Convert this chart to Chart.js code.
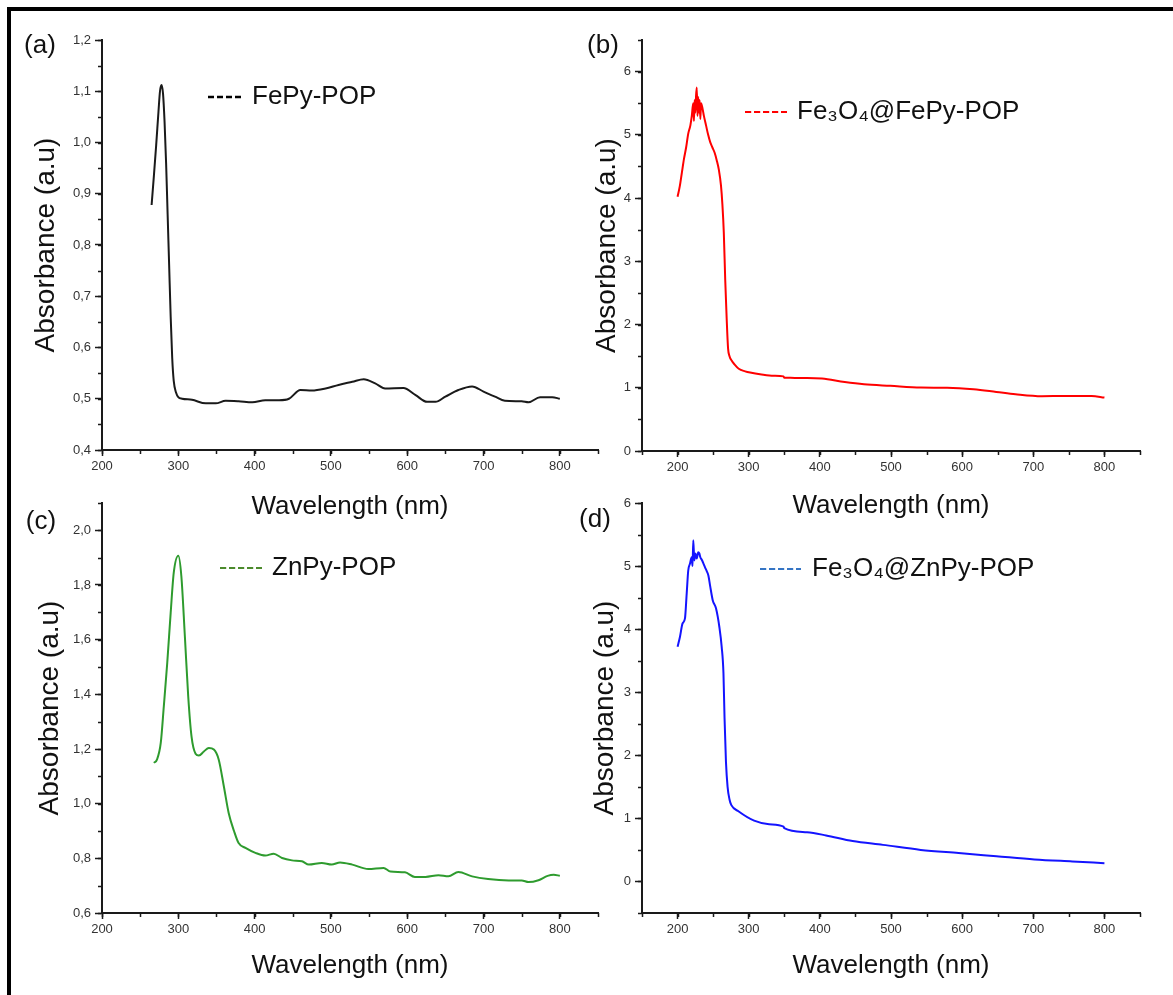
<!DOCTYPE html>
<html>
<head>
<meta charset="utf-8">
<script src="https://cdn.jsdelivr.net/npm/chart.js@4.4.0/dist/chart.umd.min.js"></script>
<style>
  body { margin: 0; background: #fff; }
  #lienzo { position: relative; width: 1173px; height: 995px; background: #fff; overflow: hidden; }
  .marco { position: absolute; left: 7px; top: 7px; width: 1200px; height: 1000px; border-top: 4px solid #000; border-left: 4px solid #000; }
  canvas { position: absolute; }
</style>
</head>
<body>
<div id="lienzo">
  <div class="marco"></div>
  <canvas id="chartA" width="610" height="522" style="left:0;top:0"></canvas>
  <canvas id="chartB" width="593" height="522" style="left:580px;top:0"></canvas>
  <canvas id="chartC" width="610" height="515" style="left:0;top:480px"></canvas>
  <canvas id="chartD" width="593" height="515" style="left:580px;top:480px"></canvas>
</div>
<script>
// ===============================
//   DATOS
// ===============================
const ticksX = [200, 300, 400, 500, 600, 700, 800];

// (a) FePy-POP
const xA = [265, 268, 271, 274, 276, 278, 280, 282, 284, 286, 288, 290, 292, 294, 297, 300, 305, 318, 336, 349, 362, 379, 397, 414, 432, 445, 460, 475, 493, 510, 528, 543, 558, 571, 595, 611, 626, 637, 650, 667, 685, 700, 715, 728, 750, 759, 774, 790, 800];
const yA = [0.878, 0.935, 0.995, 1.06, 1.10, 1.112, 1.095, 1.04, 0.96, 0.86, 0.76, 0.66, 0.58, 0.535, 0.512, 0.503, 0.500, 0.498, 0.491, 0.491, 0.496, 0.495, 0.493, 0.497, 0.497, 0.500, 0.517, 0.516, 0.520, 0.527, 0.533, 0.538, 0.530, 0.520, 0.521, 0.507, 0.494, 0.494, 0.504, 0.517, 0.524, 0.514, 0.504, 0.496, 0.495, 0.493, 0.503, 0.503, 0.500];
const ticksYA = [0.4, 0.5, 0.6, 0.7, 0.8, 0.9, 1.0, 1.1, 1.2];

// (b) Fe3O4@FePy-POP
const xB = [200, 203, 206, 209, 212, 215, 218, 220, 222, 223, 224, 225, 226, 227, 228, 229, 230, 231, 232, 233, 235, 237, 240, 243, 246, 249, 252, 255, 258, 261, 263, 265, 267, 269, 271, 273, 276, 280, 286, 295, 302, 318, 335, 349, 350, 352, 365, 382, 403, 435, 462, 499, 542, 579, 616, 648, 675, 712, 744, 782, 800];
const yB = [4.02, 4.18, 4.40, 4.62, 4.80, 5.02, 5.15, 5.30, 5.50, 5.22, 5.55, 5.35, 5.62, 5.75, 5.30, 5.60, 5.35, 5.55, 5.25, 5.50, 5.42, 5.30, 5.15, 5.00, 4.88, 4.80, 4.72, 4.60, 4.45, 4.20, 3.90, 3.45, 2.70, 2.10, 1.62, 1.50, 1.43, 1.37, 1.30, 1.26, 1.24, 1.21, 1.19, 1.18, 1.16, 1.16, 1.155, 1.155, 1.145, 1.09, 1.055, 1.03, 1.003, 1.0, 0.976, 0.934, 0.897, 0.866, 0.87, 0.87, 0.845];
const ticksYB = [0, 1, 2, 3, 4, 5, 6];

// (c) ZnPy-POP
const xC = [268, 272, 277, 281, 285.5, 290, 294, 300, 304, 308.6, 313, 317.3, 322.6, 327, 333.5, 340, 346.6, 353, 359.7, 366, 373, 379, 388, 401, 414, 425, 436, 449, 462, 471, 488, 501, 512, 528, 549, 569, 578, 597, 610, 624, 641, 654, 667, 685, 706, 733, 750, 759, 772, 784, 792, 800];
const yC = [1.149, 1.161, 1.222, 1.356, 1.515, 1.698, 1.844, 1.907, 1.832, 1.612, 1.392, 1.246, 1.183, 1.176, 1.191, 1.204, 1.198, 1.161, 1.063, 0.966, 0.90, 0.856, 0.838, 0.82, 0.81, 0.817, 0.801, 0.7925, 0.789, 0.777, 0.783, 0.777, 0.785, 0.777, 0.761, 0.765, 0.752, 0.749, 0.732, 0.732, 0.738, 0.734, 0.75, 0.734, 0.724, 0.719, 0.719, 0.713, 0.72, 0.736, 0.74, 0.736];
const ticksYC = [0.6, 0.8, 1.0, 1.2, 1.4, 1.6, 1.8, 2.0];

// (d) Fe3O4@ZnPy-POP
const xD = [200, 203.4, 207, 210.4, 212.8, 215, 217.5, 219.8, 221, 222.1, 223.5, 225, 227, 229, 230.6, 232, 234, 236, 238.6, 241, 243.3, 245.7, 249.4, 254, 258.8, 262, 264.5, 266, 268, 270.3, 273, 275.6, 286, 307.6, 328.7, 349, 350, 382, 408.7, 446, 488.6, 541.8, 595, 648.3, 701.6, 754.8, 800];
const yD = [3.72, 3.88, 4.09, 4.17, 4.56, 4.93, 5.04, 5.14, 5.0, 5.41, 5.09, 5.2, 5.12, 5.22, 5.2, 5.14, 5.1, 5.05, 4.98, 4.92, 4.85, 4.69, 4.46, 4.33, 4.03, 3.72, 3.3, 2.6, 1.9, 1.5, 1.3, 1.21, 1.11, 0.965, 0.908, 0.87, 0.845, 0.78, 0.73, 0.64, 0.58, 0.50, 0.45, 0.40, 0.35, 0.317, 0.29];
const ticksYD = [0, 1, 2, 3, 4, 5, 6];

const fuente = '"Liberation Sans", Arial, Helvetica, sans-serif';
const colorEje = "#1a1a1a";

// ===============================
//   PLUGIN: ticks menores, rótulo y leyenda
// ===============================
const decoraciones = {
  id: "decoraciones",
  afterDraw(chart, args, o) {
    const ctx = chart.ctx;
    const xs = chart.scales.x, ys = chart.scales.y;
    const area = chart.chartArea;
    ctx.save();
    // ticks menores
    ctx.strokeStyle = colorEje;
    ctx.lineWidth = 1.5;
    ctx.beginPath();
    for (let k = 0; ; k++) {
      const v = xs.min + k * o.menorX;
      if (v > xs.max + 1e-9) break;
      const px = Math.round(xs.getPixelForValue(v)) + 0.5;
      ctx.moveTo(px, area.bottom);
      ctx.lineTo(px, area.bottom + 4);
    }
    for (let k = 0; ; k++) {
      const v = ys.min + k * o.menorY;
      if (v > ys.max + 1e-9) break;
      const py = Math.round(ys.getPixelForValue(v)) + 0.5;
      ctx.moveTo(area.left - 4, py);
      ctx.lineTo(area.left, py);
    }
    ctx.stroke();

    // rótulo del panel
    ctx.font = "26px " + fuente;
    ctx.fillStyle = "#111";
    ctx.textAlign = "center";
    ctx.textBaseline = "middle";
    ctx.fillText(o.rotulo, o.rotuloX - o.ox, o.rotuloY - o.oy);

    // leyenda
    const ly = o.leyY - o.oy;
    ctx.strokeStyle = o.colorGuion;
    ctx.lineWidth = o.grosorGuion;
    ctx.setLineDash(o.guion);
    ctx.beginPath();
    ctx.moveTo(o.guionX1 - o.ox, ly);
    ctx.lineTo(o.guionX2 - o.ox, ly);
    ctx.stroke();
    ctx.setLineDash([]);
    ctx.textAlign = "left";
    ctx.fillText(chart.data.datasets[0].label, o.textoX - o.ox, ly);
    ctx.restore();
  }
};

function crearPanel(idCanvas, p) {
  const formato = p.decimales ? (v) => v.toFixed(1).replace(".", ",") : (v) => String(v);
  return new Chart(document.getElementById(idCanvas), {
    type: "line",
    data: {
      datasets: [{
        label: p.etiqueta,
        data: p.xs.map((x, i) => ({ x: x, y: p.ys[i] })),
        borderColor: p.color,
        borderWidth: 2,
        pointRadius: 0,
        cubicInterpolationMode: "monotone",
        fill: false
      }]
    },
    options: {
      responsive: false,
      animation: false,
      layout: { padding: { left: 0, top: p.arriba, right: p.derecha, bottom: 0 } },
      plugins: {
        legend: { display: false },
        tooltip: { enabled: false },
        decoraciones: p.deco
      },
      scales: {
        x: {
          type: "linear",
          min: p.xMin,
          max: 850,
          afterBuildTicks: (s) => { s.ticks = ticksX.map(v => ({ value: v })); },
          afterFit: (s) => { s.height = p.altoX; s.paddingLeft = 0; s.paddingRight = 0; s.paddingTop = 0; s.paddingBottom = 0; },
          ticks: { autoSkip: false, maxRotation: 0, padding: 3, color: "#333", font: { family: fuente, size: 13 }, callback: (v) => String(v) },
          grid: { drawOnChartArea: false, drawTicks: true, tickLength: 6, tickColor: colorEje, tickWidth: 1.5 },
          border: { display: true, color: colorEje, width: 2 },
          title: { display: true, text: "Wavelength (nm)", color: "#111", font: { family: fuente, size: 26 }, padding: { top: 0, bottom: p.pbX } }
        },
        y: {
          type: "linear",
          min: p.yMin,
          max: p.yMax,
          afterBuildTicks: (s) => { s.ticks = p.ticksY.map(v => ({ value: v })); },
          afterFit: (s) => { s.width = p.anchoY; s.paddingLeft = 0; s.paddingRight = 0; s.paddingTop = 0; s.paddingBottom = 0; },
          ticks: { autoSkip: false, padding: 4, color: "#333", font: { family: fuente, size: 13 }, callback: (v) => formato(v) },
          grid: { drawOnChartArea: false, drawTicks: true, tickLength: 7, tickColor: colorEje, tickWidth: 1.5 },
          border: { display: true, color: colorEje, width: 2 },
          title: { display: true, text: "Absorbance (a.u)", color: "#111", font: { family: fuente, size: 28 }, padding: { top: p.ptY, bottom: 0 } }
        }
      }
    },
    plugins: [decoraciones]
  });
}

crearPanel("chartA", {
  etiqueta: "FePy-POP", xs: xA, ys: yA, color: "#1a1a1a",
  xMin: 200, yMin: 0.4, yMax: 1.2, ticksY: ticksYA, decimales: true,
  arriba: 40, derecha: 12, altoX: 72, anchoY: 102, pbX: 0, ptY: 29,
  deco: { ox: 0, oy: 0, menorX: 50, menorY: 0.05, rotulo: "(a)", rotuloX: 40, rotuloY: 46,
    colorGuion: "#000", grosorGuion: 2.5, guion: [6, 3], guionX1: 208, guionX2: 242, leyY: 97, textoX: 252 }
});

crearPanel("chartB", {
  etiqueta: "Fe₃O₄@FePy-POP", xs: xB, ys: yB, color: "#ff0000",
  xMin: 150, yMin: 0, yMax: 6.5, ticksY: ticksYB, decimales: false,
  arriba: 40, derecha: 33, altoX: 71, anchoY: 62, pbX: 1, ptY: 10,
  deco: { ox: 580, oy: 0, menorX: 50, menorY: 0.5, rotulo: "(b)", rotuloX: 603, rotuloY: 46,
    colorGuion: "#ff0000", grosorGuion: 2, guion: [6.2, 2.8], guionX1: 745, guionX2: 787, leyY: 112, textoX: 797 }
});

crearPanel("chartC", {
  etiqueta: "ZnPy-POP", xs: xC, ys: yC, color: "#2e9b2e",
  xMin: 200, yMin: 0.6, yMax: 2.1, ticksY: ticksYC, decimales: true,
  arriba: 23, derecha: 12, altoX: 82, anchoY: 102, pbX: 14, ptY: 33,
  deco: { ox: 0, oy: 480, menorX: 50, menorY: 0.1, rotulo: "(c)", rotuloX: 41, rotuloY: 522,
    colorGuion: "#4c8a2c", grosorGuion: 2, guion: [6.2, 2.8], guionX1: 220, guionX2: 262, leyY: 568, textoX: 272 }
});

crearPanel("chartD", {
  etiqueta: "Fe₃O₄@ZnPy-POP", xs: xD, ys: yD, color: "#1414ff",
  xMin: 150, yMin: -0.5, yMax: 6, ticksY: ticksYD, decimales: false,
  arriba: 23, derecha: 33, altoX: 82, anchoY: 62, pbX: 14, ptY: 8,
  deco: { ox: 580, oy: 480, menorX: 50, menorY: 0.5, rotulo: "(d)", rotuloX: 595, rotuloY: 520,
    colorGuion: "#3574c4", grosorGuion: 2, guion: [6.2, 2.8], guionX1: 760, guionX2: 801, leyY: 569, textoX: 812 }
});
</script>
</body>
</html>
